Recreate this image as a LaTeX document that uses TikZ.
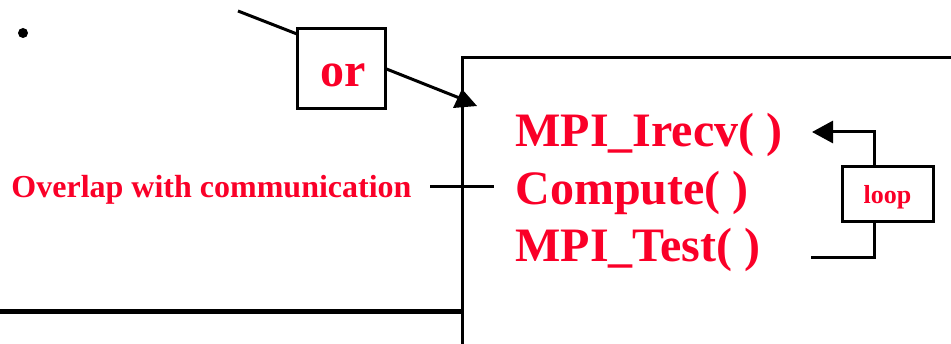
\documentclass[tikz,border=0pt]{standalone}
\usepackage{fontspec}
\setmainfont{Liberation Serif}
\usetikzlibrary{arrows.meta}
\definecolor{tred}{RGB}{250,0,40}
\begin{document}
\begin{tikzpicture}[x=1pt,y=-1pt,line width=3pt,
  lbl/.style={text=tred,anchor=base west,inner sep=0pt},
  bigtxt/.style={lbl,font=\bfseries\fontsize{48}{48}\selectfont},
  boxn/.style={draw,line width=3pt,inner sep=0pt}]
\useasboundingbox (0,0) rectangle (951,344);
% bullet
\fill (23,33) circle (5);
% "or" box
\node[boxn,minimum width=88pt,minimum height=80pt] (or) at (341,69) {};
\node[bigtxt] (ortext) at (319,87) {or};
\coordinate (s1) at (238,11);
\coordinate (s2) at (297,34);
\coordinate (e1) at (462,99);
\draw (s1) -- (s2);
\draw (or.east) -- (e1);
\fill (462,89) -- (453,108) -- (477,106) -- cycle;
% big box
\coordinate (bl) at (462,344);
\coordinate (tl) at (462,58);
\coordinate (tr) at (951,58);
\draw (bl) -- (tl) -- (tr);
\coordinate (h1) at (0,312);
\coordinate (h2) at (462,312);
\draw[line width=5pt] (h1) -- (h2);
% overlap label
\node[lbl,font=\bfseries\fontsize{32}{32}\selectfont] (ov) at (10,198) {Overlap with communication};
\coordinate (c1) at (430,187);
\coordinate (c2) at (494,187);
\draw (c1) -- (c2);
% main labels
\node[bigtxt] (irecv) at (514,147) {MPI\_Irecv( )};
\node[bigtxt] (comp) at (514,205) {Compute( )};
\node[bigtxt] (test) at (514,262) {MPI\_Test( )};
% loop
\node[boxn,minimum width=91pt,minimum height=55pt] (loop) at (887.5,194.5) {};
\node[lbl,font=\bfseries\fontsize{26}{26}\selectfont,anchor=base] (looptxt) at (887.5,204) {loop};
\coordinate (lt) at (874,167);
\coordinate (lb) at (874,222);
\coordinate (la) at (812,132);
\coordinate (lz) at (811,258);
\draw[-{Triangle[length=21pt,width=22pt]}] (lt) |- (la);
\draw (lb) |- (lz);
\end{tikzpicture}
\end{document}
